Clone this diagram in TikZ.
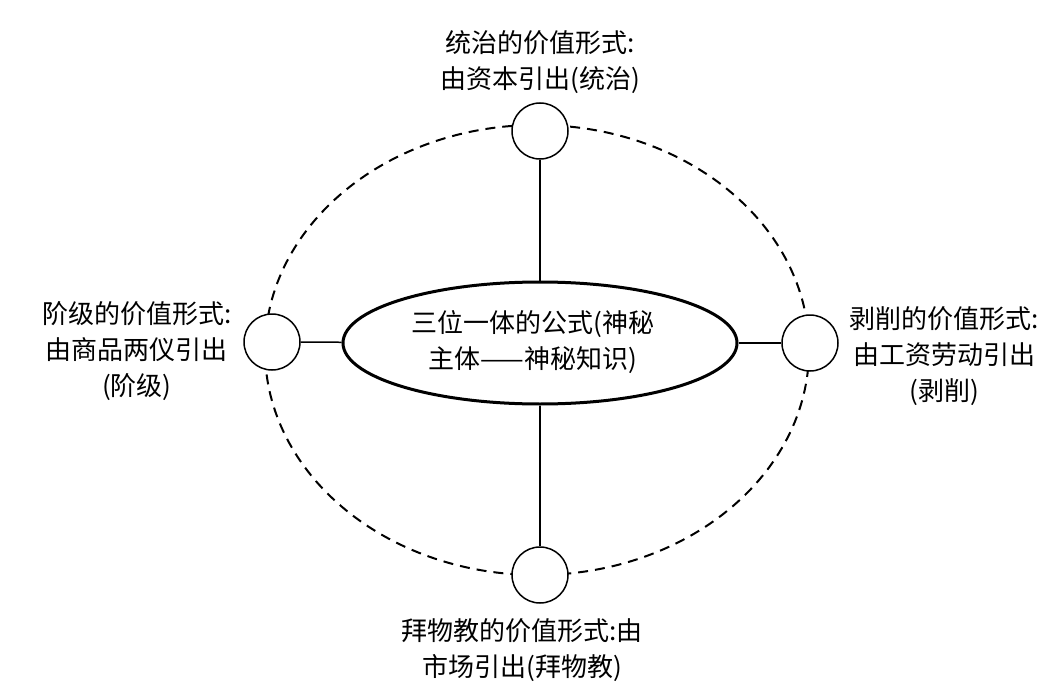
\documentclass[tikz,border=0pt]{standalone}
\usepackage{fontspec}
\setmainfont{Noto Sans CJK SC}
\usetikzlibrary{shapes.geometric}
\begin{document}
\begin{tikzpicture}[x=1pt,y=-1pt,
  lbl/.style={align=center,font=\fontsize{26}{36}\selectfont,inner sep=0pt},
  smallc/.style={circle,draw,fill=white,line width=1.5pt,minimum size=56pt,inner sep=0pt},
  link/.style={line width=1.5pt}]
\useasboundingbox (0,0) rectangle (1063,698);
\draw[line width=2pt,dash pattern=on 10pt off 7pt] (537,350) ellipse [x radius=272, y radius=225];
\node[ellipse,draw,line width=3pt,minimum width=394pt,minimum height=122pt,inner sep=0pt] (c) at (540,343) {};
\node[lbl] (ct) at (533,342) {三位一体的公式(神秘\\主体——神秘知识)};
\node[smallc] (t) at (540,131) {};
\node[smallc] (l) at (272,342) {};
\node[smallc] (r) at (810,343) {};
\node[smallc] (b) at (540,575) {};
\draw[link] (t) -- (c);
\draw[link] (l) -- (c);
\draw[link] (c) -- (r);
\draw[link] (c) -- (b);
\node[lbl] (tl) at (540,62) {统治的价值形式:\\由资本引出(统治)};
\node[lbl] (ll) at (137,351) {阶级的价值形式:\\由商品两仪引出\\(阶级)};
\node[lbl] (rl) at (944,356) {剥削的价值形式:\\由工资劳动引出\\(剥削)};
\node[lbl] (bl) at (522,650) {拜物教的价值形式:由\\市场引出(拜物教)};
\end{tikzpicture}
\end{document}
